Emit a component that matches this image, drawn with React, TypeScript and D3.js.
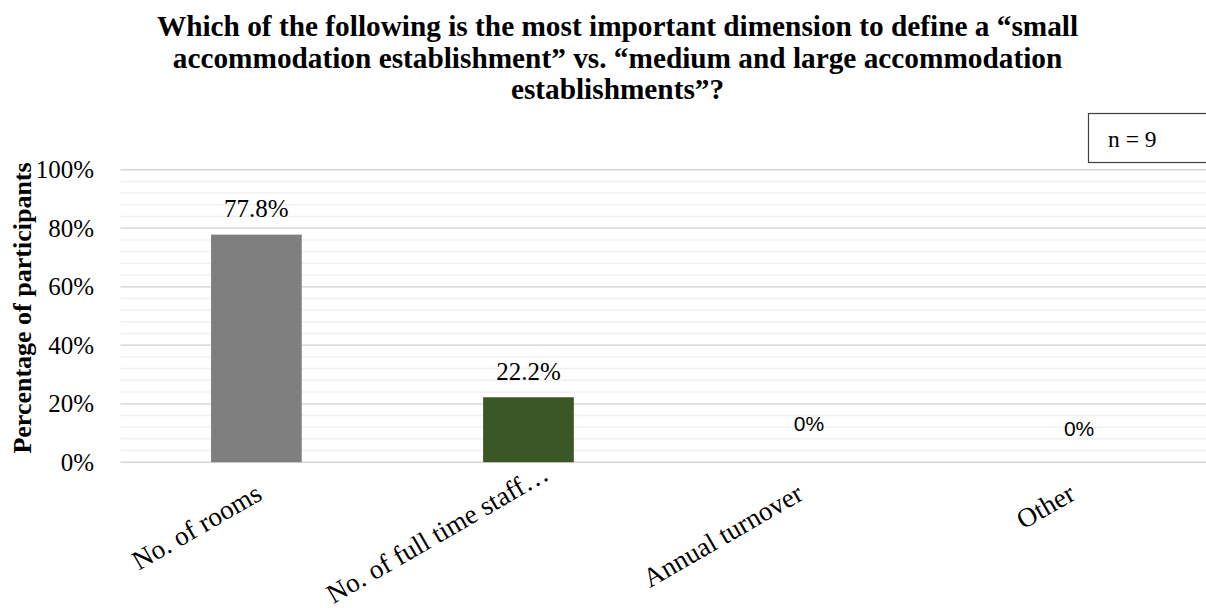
import React from "react";
import * as d3 from "d3";

const categories = ["No. of rooms", "No. of full time staff…", "Annual turnover", "Other"];
const values = [77.8, 22.2, 0, 0];
const valueLabels = ["77.8%", "22.2%", "0%", "0%"];
const barColors = ["#7f7f7f", "#3b5725", "none", "none"];
const yTicks = [0, 20, 40, 60, 80, 100];
const minorTicks = d3.range(0, 101, 4);
const titleLines = [
  "Which of the following is the most important dimension to define a “small",
  "accommodation establishment” vs. “medium and large accommodation",
  "establishments”?",
];

const W = 1206;
const H = 608;
const serif = "'Liberation Serif', 'Times New Roman', serif";
const sans = "'Liberation Sans', Arial, sans-serif";

export default function App() {
  const x = d3.scaleBand<string>().domain(categories).range([120.5, 1208.5]).paddingInner(0.667).paddingOuter(0.333);
  const y = d3.scaleLinear().domain([0, 100]).range([462.2, 169.7]);
  const barW = 90.7;

  // offsets of the zero labels as they were placed in the original
  const zeroLabelPos = [null, null, { dx: 8.5, y: 431 }, { dx: 6.5, y: 436 }];
  // the truncated category label sits a little higher and further right in the original
  const catOffset = [
    { dx: 0, dy: 0 },
    { dx: 15, dy: -20 },
    { dx: -3, dy: 0 },
    { dx: -3, dy: 0 },
  ];

  return (
    <svg width={W} height={H} style={{ position: "absolute", left: 0, top: 0, background: "#fff" }}>
      <rect x={0} y={0} width={W} height={H} fill="#fff" />
      {titleLines.map((t, i) => (
        <text key={i} x={617.5} y={36 + i * 31.5} textAnchor="middle" fontFamily={serif} fontWeight="bold" fontSize={29.3}>
          {t}
        </text>
      ))}
      {minorTicks.map((t) => (
        <line key={"m" + t} x1={120.5} x2={1208} y1={y(t)} y2={y(t)} stroke="#f0f0f0" strokeWidth={1.5} />
      ))}
      {yTicks.map((t) => (
        <line key={"g" + t} x1={120.5} x2={1208} y1={y(t)} y2={y(t)} stroke="#d9d9d9" strokeWidth={1.5} />
      ))}
      {yTicks.map((t) => (
        <text key={"t" + t} x={94} y={y(t)} dy="0.34em" textAnchor="end" fontFamily={serif} fontSize={25}>
          {t}%
        </text>
      ))}
      <text
        transform={`translate(31, 308) rotate(-90)`}
        textAnchor="middle"
        fontFamily={serif}
        fontWeight="bold"
        fontSize={26}
      >
        Percentage of participants
      </text>
      {categories.map((c, i) => {
        const cx = (x(c) as number) + x.bandwidth() / 2;
        return (
          <g key={c}>
            {values[i] > 0 && (
              <rect x={cx - barW / 2} y={y(values[i])} width={barW} height={y(0) - y(values[i])} fill={barColors[i]} />
            )}
            {values[i] > 0 ? (
              <text x={cx} y={y(values[i]) - 17.5} textAnchor="middle" fontFamily={serif} fontSize={25}>
                {valueLabels[i]}
              </text>
            ) : (
              <text
                x={cx + (zeroLabelPos[i]?.dx ?? 0)}
                y={zeroLabelPos[i]?.y ?? 431}
                textAnchor="middle"
                fontFamily={sans}
                fontSize={21}
              >
                {valueLabels[i]}
              </text>
            )}
            <text
              transform={`translate(${cx - 3 + catOffset[i].dx}, ${481 + catOffset[i].dy}) rotate(-30)`}
              dy="0.75em"
              textAnchor="end"
              fontFamily={serif}
              fontSize={27.2}
            >
              {c}
            </text>
          </g>
        );
      })}
      <rect x={1088.5} y={113.5} width={130} height={49} fill="#fff" stroke="#404040" strokeWidth={1.2} />
      <text x={1108} y={147} fontFamily={serif} fontSize={23.5}>
        n = 9
      </text>
    </svg>
  );
}
